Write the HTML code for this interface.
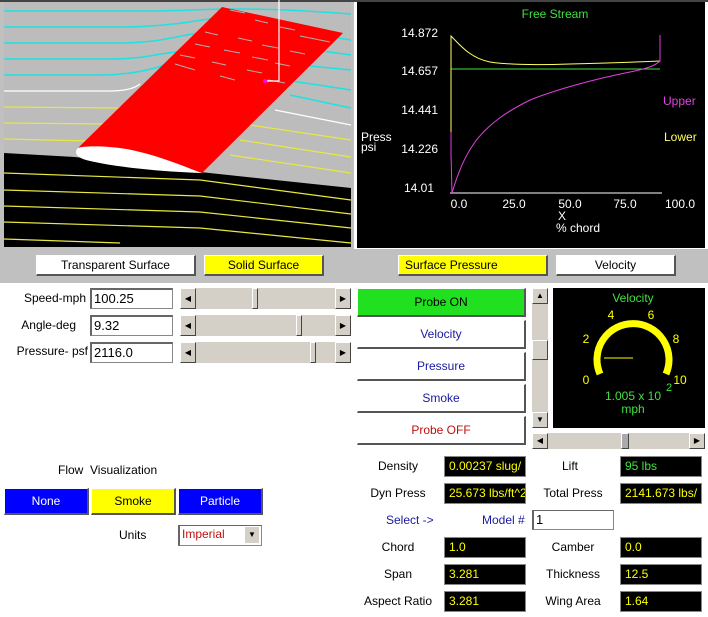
<!DOCTYPE html>
<html><head><meta charset="utf-8"><style>
body{margin:0;width:708px;height:617px;background:#fff;position:relative;overflow:hidden;font-family:"Liberation Sans",Arial,sans-serif;font-size:12px}
.a{position:absolute}
.lbl{position:absolute;color:#000;font-size:12px;text-align:center;white-space:nowrap}
.btn{position:absolute;box-sizing:border-box;text-align:center;font-size:12px;border:1px solid #fff;border-right:2px solid #555;border-bottom:2px solid #555}
.tf{position:absolute;box-sizing:border-box;background:#fff;border:1px solid #888;border-top:2px solid #666;border-left:2px solid #666;font-size:13px;padding-left:2px;line-height:17px}
.out{position:absolute;box-sizing:border-box;background:#000;color:#ff0;font-size:12px;padding-left:4px;line-height:18px;border:1px solid #888;overflow:hidden;white-space:nowrap}
.sb{position:absolute;background:#d4d0c8;box-sizing:border-box}
.arr{position:absolute;width:16px;background:#d4d0c8;border:1px solid #fff;border-right:1px solid #444;border-bottom:1px solid #444;box-sizing:border-box}
.thumb{position:absolute;background:#d4d0c8;border:1px solid #fff;border-right:1px solid #444;border-bottom:1px solid #444;box-sizing:border-box}
</style></head><body>
<div class="a" style="left:0;top:0;width:354px;height:249px;background:#c0c0c0"></div>
<div class="a" style="left:0;top:0;width:708px;height:2px;background:#444"></div>
<svg class="a" style="left:0;top:0" width="708" height="250">
<rect x="4" y="2" width="347" height="245" fill="#bcbcbc"/>
<polygon points="4,153 75,157 200,172 351,188 351,247 4,247" fill="#000"/>
<g fill="none" stroke="#20e0e0" stroke-width="1.5">
<path d="M4,11 L150,11 C200,11 230,5 351,14"/>
<path d="M4,27 L120,27 C170,27 200,20 240,14 M290,30 L351,40"/>
<path d="M4,43 L120,43 C160,43 180,35 200,33 M300,48 L351,55"/>
<path d="M4,59 L110,59 C150,59 160,52 180,52 M300,65 L351,70"/>
<path d="M4,75 L100,75 C130,75 150,70 165,65 M285,80 L351,90"/>
<path d="M290,95 L351,108"/>
</g>
<path d="M4,91 L110,91 C125,91 135,88 140,84 M275,110 L351,125" stroke="#fff" stroke-width="1.2" fill="none"/>
<g fill="none" stroke="#e8e840" stroke-width="1.2">
<path d="M4,107 L120,108"/><path d="M4,123 L110,124"/><path d="M4,139 L90,141"/>
<path d="M250,125 L351,140"/><path d="M240,140 L351,157"/><path d="M230,155 L351,173"/>
<path d="M4,173 L200,180 L351,200"/><path d="M4,190 L200,196 L351,214"/><path d="M4,206 L200,212 L351,228"/><path d="M4,222 L200,228 L351,243"/><path d="M4,239 L120,243"/>
</g>
<polygon points="78,148 222,7 343,33 202,173" fill="#ff0000"/>
<g stroke="#b0b0b0" stroke-width="1">
<path d="M230,10 L245,13 M255,20 L268,23 M280,27 L295,30 M300,36 L330,42
M205,32 L218,35 M238,38 L252,41 M262,45 L278,48 M290,51 L305,54
M195,44 L210,47 M224,50 L240,53 M252,57 L268,60 M275,63 L290,66
M180,55 L195,58 M212,62 L226,65 M247,70 L262,73 M268,80 L285,83
M175,64 L195,70 M220,76 L235,80"/>
</g>
<path d="M279,0 L279,81 L265,81" stroke="#fff" stroke-width="1.2" fill="none"/>
<circle cx="265" cy="81" r="2" fill="#f0f"/>
<path d="M78,148 C85,145 120,146 140,152 C165,158 185,167 202,173 C170,172 120,168 90,161 C75,158 74,152 78,148Z" fill="#fff"/>
<rect x="357" y="2" width="348" height="246" fill="#000"/>
<text x="555" y="18" fill="#40e040" font-size="12" text-anchor="middle" font-family="Liberation Sans">Free Stream</text>
<g fill="#fff" font-size="12" font-family="Liberation Sans" text-anchor="end">
<text x="438" y="37">14.872</text><text x="438" y="75">14.657</text><text x="438" y="114">14.441</text><text x="438" y="153">14.226</text><text x="434" y="192">14.01</text>
</g>
<text x="361" y="141" fill="#fff" font-size="12" font-family="Liberation Sans">Press</text>
<text x="361" y="151" fill="#fff" font-size="12" font-family="Liberation Sans">psi</text>
<g fill="#fff" font-size="12" font-family="Liberation Sans" text-anchor="middle">
<text x="459" y="208">0.0</text><text x="514" y="208">25.0</text><text x="570" y="208">50.0</text><text x="625" y="208">75.0</text><text x="680" y="208">100.0</text>
<text x="562" y="220">X</text><text x="578" y="232">% chord</text></g>
<text x="663" y="105" fill="#e040e0" font-size="12" font-family="Liberation Sans">Upper</text>
<text x="664" y="141" fill="#ffff60" font-size="12" font-family="Liberation Sans">Lower</text>
<line x1="450" y1="193" x2="662" y2="193" stroke="#fff"/>
<line x1="451" y1="69" x2="660" y2="69" stroke="#40e040"/>
<path d="M451,150 L451,36 C460,45 470,58 490,62 C510,65 540,65 570,64 C610,63 640,62 660,61" stroke="#ffff60" fill="none"/>
<path d="M451,132 L451,154 M451,154 L452,193 C456,180 462,160 475,142 C490,122 510,110 530,100 C560,88 600,78 630,72 C645,69 655,66 660,61 L660,35" stroke="#e040e0" fill="none"/>
</svg>
<div class="a" style="left:0;top:249px;width:708px;height:34px;background:#c0c0c0"></div>
<div class="btn" style="left:36px;top:255px;width:160px;height:21px;background:#fff;line-height:19px">Transparent Surface</div>
<div class="btn" style="left:204px;top:255px;width:120px;height:21px;background:#ff0;line-height:19px">Solid Surface</div>
<div class="btn" style="left:398px;top:255px;width:150px;height:21px;background:#ff0;line-height:19px;text-align:left;padding-left:6px">Surface Pressure</div>
<div class="btn" style="left:556px;top:255px;width:120px;height:21px;background:#fff;line-height:19px">Velocity</div>
<div class="lbl" style="left:0;top:291px;width:86px;text-align:right">Speed-mph</div>
<div class="lbl" style="left:0;top:318px;width:76px;text-align:right">Angle-deg</div>
<div class="lbl" style="left:0;top:344px;width:88px;text-align:right">Pressure- psf</div>
<div class="tf" style="left:90px;top:288px;width:83px;height:21px">100.25</div>
<div class="tf" style="left:90px;top:315px;width:83px;height:21px">9.32</div>
<div class="tf" style="left:90px;top:342px;width:83px;height:21px">2116.0</div>
<div class="sb" style="left:180px;top:288px;width:171px;height:21px"><div class="arr" style="left:0;top:0;height:21px;font-size:8px;line-height:19px;text-align:center">◀</div><div class="arr" style="right:0;top:0;height:21px;font-size:8px;line-height:19px;text-align:center">▶</div><div class="thumb" style="left:72px;top:0;width:6px;height:21px"></div></div>
<div class="sb" style="left:180px;top:315px;width:171px;height:21px"><div class="arr" style="left:0;top:0;height:21px;font-size:8px;line-height:19px;text-align:center">◀</div><div class="arr" style="right:0;top:0;height:21px;font-size:8px;line-height:19px;text-align:center">▶</div><div class="thumb" style="left:116px;top:0;width:6px;height:21px"></div></div>
<div class="sb" style="left:180px;top:342px;width:171px;height:21px"><div class="arr" style="left:0;top:0;height:21px;font-size:8px;line-height:19px;text-align:center">◀</div><div class="arr" style="right:0;top:0;height:21px;font-size:8px;line-height:19px;text-align:center">▶</div><div class="thumb" style="left:130px;top:0;width:6px;height:21px"></div></div>
<div class="btn" style="left:357px;top:288px;width:169px;height:29px;background:#20e020;line-height:27px;color:#000">Probe ON</div>
<div class="btn" style="left:357px;top:320px;width:169px;height:29px;background:#fff;line-height:27px;color:#1a1aa0">Velocity</div>
<div class="btn" style="left:357px;top:352px;width:169px;height:29px;background:#fff;line-height:27px;color:#1a1aa0">Pressure</div>
<div class="btn" style="left:357px;top:384px;width:169px;height:29px;background:#fff;line-height:27px;color:#1a1aa0">Smoke</div>
<div class="btn" style="left:357px;top:416px;width:169px;height:29px;background:#fff;line-height:27px;color:#c01010">Probe OFF</div>
<div class="sb" style="left:532px;top:288px;width:16px;height:140px"><div class="arr" style="left:0;top:0;height:16px;font-size:8px;line-height:14px;text-align:center">▲</div><div class="thumb" style="left:0;top:52px;width:16px;height:20px"></div><div class="arr" style="left:0;bottom:0;height:16px;font-size:8px;line-height:14px;text-align:center">▼</div></div>
<div class="sb" style="left:532px;top:433px;width:173px;height:16px"><div class="arr" style="left:0;top:0;height:16px;font-size:8px;line-height:14px;text-align:center">◀</div><div class="thumb" style="left:89px;top:0;width:8px;height:16px;background:#aaa"></div><div class="arr" style="right:0;top:0;height:16px;font-size:8px;line-height:14px;text-align:center">▶</div></div>
<svg class="a" style="left:553px;top:288px" width="152" height="140">
<rect width="152" height="140" fill="#000"/>
<text x="80" y="14" fill="#40e040" font-size="12" text-anchor="middle" font-family="Liberation Sans">Velocity</text>
<path d="M47,86 A36,36 0 1 1 113,86" stroke="#ff0" stroke-width="7" fill="none"/>
<line x1="51" y1="70" x2="80" y2="70" stroke="#ff0"/>
<g fill="#ff0" font-size="12" font-family="Liberation Sans" text-anchor="middle">
<text x="33" y="96">0</text><text x="33" y="55">2</text><text x="58" y="31">4</text><text x="98" y="31">6</text><text x="123" y="55">8</text><text x="127" y="96">10</text></g>
<text x="80" y="112" fill="#40e040" font-size="12" text-anchor="middle" font-family="Liberation Sans">1.005 x 10</text>
<text x="113" y="103" fill="#40e040" font-size="11" font-family="Liberation Sans">2</text>
<text x="80" y="125" fill="#40e040" font-size="12" text-anchor="middle" font-family="Liberation Sans">mph</text>
</svg>
<div class="lbl" style="left:58px;top:463px">Flow&nbsp; Visualization</div>
<div class="btn" style="left:4px;top:488px;width:85px;height:27px;background:#0000ff;color:#fff;line-height:25px">None</div>
<div class="btn" style="left:91px;top:488px;width:85px;height:27px;background:#ff0;color:#000;line-height:25px">Smoke</div>
<div class="btn" style="left:178px;top:488px;width:85px;height:27px;background:#0000ff;color:#fff;line-height:25px">Particle</div>
<div class="lbl" style="left:119px;top:528px">Units</div>
<div class="tf" style="left:178px;top:525px;width:84px;height:21px;color:#c01010;font-size:12px;border-width:1px 1px 1px 2px">Imperial<div style="position:absolute;right:2px;top:1px;width:14px;height:16px;background:#d4d0c8;font-size:8px;line-height:16px;text-align:center;color:#000">▼</div></div>
<div class="lbl" style="left:354px;top:459px;width:88px">Density</div>
<div class="out" style="left:444px;top:456px;width:82px;height:21px">0.00237 slug/</div>
<div class="lbl" style="left:540px;top:459px;width:60px">Lift</div>
<div class="out" style="left:620px;top:456px;width:82px;height:21px;color:#40e040">95 lbs</div>
<div class="lbl" style="left:354px;top:486px;width:88px">Dyn Press</div>
<div class="out" style="left:444px;top:483px;width:82px;height:21px">25.673 lbs/ft^2</div>
<div class="lbl" style="left:530px;top:486px;width:86px">Total Press</div>
<div class="out" style="left:620px;top:483px;width:82px;height:21px">2141.673 lbs/</div>
<div class="lbl" style="left:386px;top:513px;color:#1a1aa0">Select -&gt;</div>
<div class="lbl" style="left:482px;top:513px;color:#1a1aa0">Model #</div>
<div class="tf" style="left:532px;top:510px;width:82px;height:20px;border-width:1px 1px 1px 2px">1</div>
<div class="lbl" style="left:354px;top:540px;width:88px">Chord</div>
<div class="out" style="left:444px;top:537px;width:82px;height:21px">1.0</div>
<div class="lbl" style="left:530px;top:540px;width:86px">Camber</div>
<div class="out" style="left:620px;top:537px;width:82px;height:21px">0.0</div>
<div class="lbl" style="left:354px;top:567px;width:88px">Span</div>
<div class="out" style="left:444px;top:564px;width:82px;height:21px">3.281</div>
<div class="lbl" style="left:530px;top:567px;width:86px">Thickness</div>
<div class="out" style="left:620px;top:564px;width:82px;height:21px">12.5</div>
<div class="lbl" style="left:354px;top:594px;width:88px">Aspect Ratio</div>
<div class="out" style="left:444px;top:591px;width:82px;height:21px">3.281</div>
<div class="lbl" style="left:530px;top:594px;width:86px">Wing Area</div>
<div class="out" style="left:620px;top:591px;width:82px;height:21px">1.64</div>
</body></html>
